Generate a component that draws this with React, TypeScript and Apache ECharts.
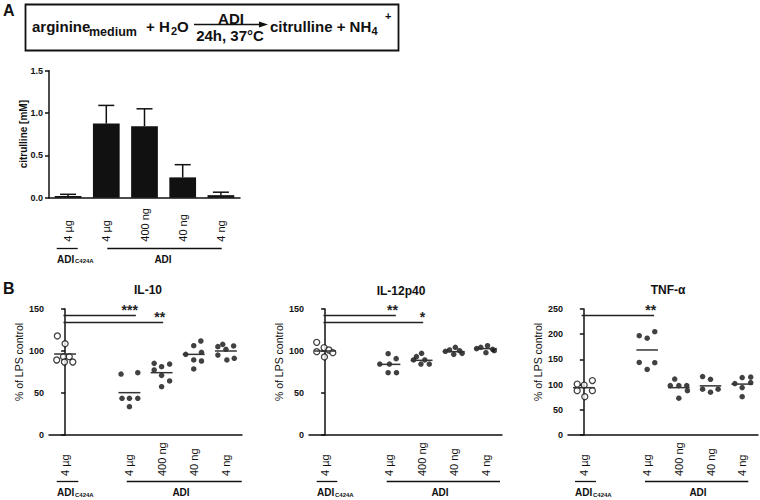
import React, { useEffect, useRef } from 'react';
import * as echarts from 'echarts';

const FONT = '"Liberation Sans", Arial, Helvetica, sans-serif';
const INK = '#111';

// ---------- Panel A : citrulline ----------
const citrullineDoses = ['4 µg', '4 µg', '400 ng', '40 ng', '4 ng'];
const citrullineMean = [0.02, 0.875, 0.845, 0.24, 0.03];
const citrullineSD = [0.02, 0.215, 0.205, 0.15, 0.035];

// ---------- Panel B : dot plots ----------
const doseSlots = ['4 µg', '', '4 µg', '400 ng', '40 ng', '4 ng'];
const groupSlot = [0, 2, 3, 4, 5];

const il10Values = [
  [117.9, 108.7, 89.3, 93.3, 86.9, 93.3, 86.9],
  [72.6, 74.2, 43.7, 43.7, 43.7, 33.7],
  [85.3, 84.5, 81.3, 77.4, 71.0, 64.3, 57.5],
  [111.9, 106.3, 98.4, 96.0, 89.3, 88.1, 78.6],
  [107.9, 105.2, 106.0, 102.0, 95.2, 91.3, 89.3],
];
const il10Jitter = [
  [-0.24, 0, -0.26, -0.05, -0.02, 0.13, 0.24],
  [-0.26, 0.26, -0.23, 0, 0.26, 0],
  [-0.23, 0.25, 0, -0.23, 0, 0.25, 0],
  [0.22, 0, 0.24, -0.25, 0, 0.24, 0],
  [-0.1, -0.25, 0.24, 0, -0.25, 0.26, 0.03],
];
const il10Means = [96.4, 50.4, 74.2, 96.0, 100.0];
const il10Sig = [
  { from: -0.05, to: 2.2, y: 143, label: '***' },
  { from: -0.05, to: 3.05, y: 134, label: '**' },
];

const il12Values = [
  [110.3, 104.0, 101.2, 99.2, 98.0, 92.9],
  [96.8, 90.9, 84.5, 84.5, 74.2, 74.2],
  [97.2, 93.3, 89.3, 89.3, 84.5, 84.5],
  [104.4, 101.2, 99.6, 100.4, 96.0, 97.2],
  [106.3, 104.4, 102.8, 102.0, 100.4, 98.0],
];
const il12Jitter = [
  [-0.26, -0.03, 0.12, -0.26, 0.24, -0.02],
  [-0.04, 0.21, -0.3, 0, -0.04, 0.22],
  [0, -0.16, -0.25, 0.1, -0.02, 0.24],
  [0.05, -0.13, -0.26, 0.18, 0, 0.26],
  [0.05, -0.16, -0.29, 0.21, 0.26, 0],
];
const il12Means = [100.0, 84.1, 88.9, 99.2, 102.8];
const il12Sig = [
  { from: -0.05, to: 2.2, y: 143, label: '**' },
  { from: -0.05, to: 3.05, y: 134, label: '*' },
];

const tnfValues = [
  [108, 101, 99, 88, 88, 76],
  [205, 197, 192, 144, 143.5, 130],
  [111, 98, 98, 98, 88, 73],
  [116, 110.5, 91, 91, 85],
  [102, 114, 115, 104, 94, 76],
];
const tnfJitter = [
  [0.27, -0.21, 0.01, -0.21, 0.27, 0.03],
  [0.24, -0.25, 0, -0.25, 0.24, 0],
  [-0.13, -0.27, 0, 0.25, 0.27, 0],
  [-0.25, 0, -0.25, 0.24, 0],
  [-0.23, 0, 0.27, 0.27, 0, 0],
];
const tnfMeans = [93.9, 168.7, 94, 97.5, 101];
const tnfSig = [{ from: -0.07, to: 2.22, y: 238, label: '**' }];

const axisLineStyle = { color: INK, width: 1.5 };

function T(text: string, x: number, y: number, size: number, weight: string, align = 'left', vAlign = 'middle') {
  return {
    type: 'text', x, y, silent: true,
    style: {
      text, fontSize: size, fontWeight: weight, fontFamily: FONT, fill: INK,
      align, verticalAlign: vAlign, textAlign: align, textVerticalAlign: vAlign,
    },
  };
}
function L(x1: number, y1: number, x2: number, y2: number, w = 1.3) {
  return { type: 'line', silent: true, shape: { x1, y1, x2, y2 }, style: { stroke: INK, lineWidth: w } };
}

const tickLabel = { fontSize: 9, fontWeight: 'bold', color: INK, fontFamily: FONT };
const catLabel = {
  interval: 0, rotate: 90, align: 'left', verticalAlign: 'middle',
  fontSize: 11, color: INK, fontFamily: FONT,
};

function yAxisB(gridIndex: number, max: number) {
  return {
    type: 'value', gridIndex, min: 0, max, interval: 50,
    axisLine: { show: true, lineStyle: axisLineStyle },
    axisTick: { show: true, length: 4, lineStyle: axisLineStyle },
    splitLine: { show: false },
    axisLabel: { ...tickLabel, margin: 5 },
    name: '% of LPS control', nameLocation: 'middle', nameGap: 25, nameMoveOverlap: false,
    nameTextStyle: { fontSize: 10.5, color: INK, fontFamily: FONT, padding: [0, 0, 0, 20] },
  };
}
function xCatB(gridIndex: number) {
  return {
    type: 'category', gridIndex, data: doseSlots,
    axisLine: { show: true, onZero: false, lineStyle: axisLineStyle },
    axisTick: { show: false }, splitLine: { show: false },
    axisLabel: { ...catLabel, margin: 41 },
  };
}
function xValB(gridIndex: number) {
  return { type: 'value', gridIndex, min: -0.5, max: 5.5, show: false };
}

function panelSeries(values: number[][], jitter: number[][], means: number[], sig: any[], xIdx: number, yIdx: number) {
  const open = values[0].map((v, k) => [groupSlot[0] + jitter[0][k], v]);
  const filled: number[][] = [];
  values.slice(1).forEach((g, gi) => g.forEach((v, k) => filled.push([groupSlot[gi + 1] + jitter[gi + 1][k], v])));
  return [
    {
      type: 'scatter', xAxisIndex: xIdx, yAxisIndex: yIdx, data: open, symbol: 'circle', symbolSize: 6,
      itemStyle: { color: '#fff', borderColor: INK, borderWidth: 1.3 }, z: 3,
      markLine: {
        silent: true, symbol: ['none', 'none'], animation: false,
        lineStyle: { color: '#222', width: 1.3, type: 'solid' },
        label: {
          show: true, position: 'insideEndTop', formatter: (p: any) => p.name,
          color: '#222', fontSize: 14, fontWeight: 'bold', fontFamily: FONT, distance: -2,
        },
        data: sig.map((s) => [{ coord: [s.from, s.y], name: s.label }, { coord: [s.to, s.y] }]),
      },
    },
    {
      type: 'scatter', xAxisIndex: xIdx, yAxisIndex: yIdx, data: filled, symbol: 'circle', symbolSize: 5.5,
      itemStyle: { color: INK }, z: 3,
    },
    {
      type: 'custom', xAxisIndex: xIdx, yAxisIndex: yIdx, encode: { x: 0, y: 1 }, z: 4,
      data: means.map((m, i) => [groupSlot[i], m]),
      renderItem: (params: any, api: any) => {
        const x = api.value(0), y = api.value(1);
        const p1 = api.coord([x - 0.34, y]);
        const p2 = api.coord([x + 0.34, y]);
        return { type: 'line', shape: { x1: p1[0], y1: p1[1], x2: p2[0], y2: p2[1] }, style: { stroke: '#333', lineWidth: 1.5 } };
      },
    },
  ];
}

export default function App() {
  const ref = useRef<HTMLDivElement>(null);
  useEffect(() => {
    if (!ref.current) return;
    const chart = echarts.init(ref.current, null, { renderer: 'svg' });

    const graphic: any[] = [
      T('A', 3, 10, 16, 'bold'),
      T('B', 3, 288, 16, 'bold'),
      { type: 'rect', silent: true, shape: { x: 25.5, y: 4.5, width: 373, height: 46 }, style: { fill: 'none', stroke: INK, lineWidth: 1.8 } },
      T('arginine', 32, 26, 15, 'bold'),
      T('medium', 89, 31.5, 12.5, 'bold'),
      T('+ H', 146, 26, 15, 'bold'),
      T('2', 171, 31, 11, 'bold'),
      T('O', 177, 26, 15, 'bold'),
      L(194, 24.5, 261, 24.5, 1.5),
      { type: 'polygon', silent: true, shape: { points: [[259, 21.5], [268, 24.5], [259, 27.5]] }, style: { fill: INK } },
      T('ADI', 231, 18, 15, 'bold', 'center'),
      T('24h, 37°C', 230, 35.5, 15, 'bold', 'center'),
      T('citrulline + NH', 270, 26, 15, 'bold'),
      T('4', 371.5, 31, 11, 'bold'),
      T('+', 385, 16, 11, 'bold'),
      // titles
      T('IL-10', 148, 290, 12, 'bold', 'center'),
      T('IL-12p40', 401, 290.5, 12, 'bold', 'center'),
      T('TNF-α', 668, 290, 12, 'bold', 'center'),
      // group annotations panel A
      L(56.7, 248.5, 77.7, 248.5), L(107.3, 248.5, 221.7, 248.5),
      T('ADI', 57, 259, 10, 'bold'), T('C424A', 75, 261, 6, 'bold'), T('ADI', 163, 259, 10, 'bold', 'center'),
      // B1
      L(56.7, 481.5, 78.3, 481.5), L(126.7, 481.5, 241.7, 481.5),
      T('ADI', 57, 492.7, 10, 'bold'), T('C424A', 75, 494.5, 6, 'bold'), T('ADI', 181, 492.7, 10, 'bold', 'center'),
      // B2
      L(316.7, 481.5, 337.3, 481.5), L(386.7, 481.5, 500, 481.5),
      T('ADI', 317, 492.7, 10, 'bold'), T('C424A', 335, 494.5, 6, 'bold'), T('ADI', 440, 492.7, 10, 'bold', 'center'),
      // B3
      L(575, 481.5, 596, 481.5), L(645, 481.5, 748.3, 481.5),
      T('ADI', 575, 492.7, 10, 'bold'), T('C424A', 593, 494.5, 6, 'bold'), T('ADI', 698, 492.7, 10, 'bold', 'center'),
    ];

    const option: any = {
      animation: false,
      textStyle: { fontFamily: FONT },
      grid: [
        { left: 49, top: 70.7, width: 191, height: 127, outerBoundsMode: 'none', containLabel: false },
        { left: 49, top: 309, width: 193, height: 126, outerBoundsMode: 'none', containLabel: false },
        { left: 309, top: 309, width: 193, height: 126, outerBoundsMode: 'none', containLabel: false },
        { left: 568, top: 309, width: 190, height: 126, outerBoundsMode: 'none', containLabel: false },
      ],
      xAxis: [
        {
          type: 'category', gridIndex: 0, data: citrullineDoses,
          axisLine: { show: true, lineStyle: axisLineStyle }, axisTick: { show: false }, splitLine: { show: false },
          axisLabel: { ...catLabel, margin: 44 },
        },
        xCatB(1), xValB(1),
        xCatB(2), xValB(2),
        xCatB(3), xValB(3),
      ],
      yAxis: [
        {
          type: 'value', gridIndex: 0, min: 0, max: 1.5, interval: 0.5,
          axisLine: { show: true, lineStyle: axisLineStyle },
          axisTick: { show: true, length: 4, lineStyle: axisLineStyle },
          splitLine: { show: false },
          axisLabel: { ...tickLabel, margin: 6, formatter: (v: number) => v.toFixed(1) },
          name: 'citrulline [mM]', nameLocation: 'middle', nameGap: 21, nameMoveOverlap: false,
          nameTextStyle: { fontSize: 10, fontWeight: 'bold', color: INK, fontFamily: FONT },
        },
        yAxisB(1, 150), yAxisB(2, 150), yAxisB(3, 250),
      ],
      series: [
        {
          type: 'bar', xAxisIndex: 0, yAxisIndex: 0, data: citrullineMean, barWidth: '70%',
          itemStyle: { color: INK },
        },
        {
          type: 'custom', xAxisIndex: 0, yAxisIndex: 0, encode: { x: 0, y: 1 }, z: 3,
          data: citrullineMean.map((m, i) => [i, m, m + citrullineSD[i]]),
          renderItem: (params: any, api: any) => {
            const i = api.value(0);
            const base = api.coord([i, api.value(1)]);
            const tip = api.coord([i, api.value(2)]);
            return {
              type: 'group',
              children: [
                { type: 'line', shape: { x1: base[0], y1: base[1], x2: tip[0], y2: tip[1] }, style: { stroke: INK, lineWidth: 1.5 } },
                { type: 'line', shape: { x1: tip[0] - 8, y1: tip[1], x2: tip[0] + 8, y2: tip[1] }, style: { stroke: INK, lineWidth: 1.5 } },
              ],
            };
          },
        },
        ...panelSeries(il10Values, il10Jitter, il10Means, il10Sig, 2, 1),
        ...panelSeries(il12Values, il12Jitter, il12Means, il12Sig, 4, 2),
        ...panelSeries(tnfValues, tnfJitter, tnfMeans, tnfSig, 6, 3),
      ],
      graphic,
    };
    chart.setOption(option);
    return () => chart.dispose();
  }, []);
  return <div ref={ref} style={{ position: 'absolute', left: 0, top: 0, width: 760, height: 500, background: '#fff' }} />;
}
